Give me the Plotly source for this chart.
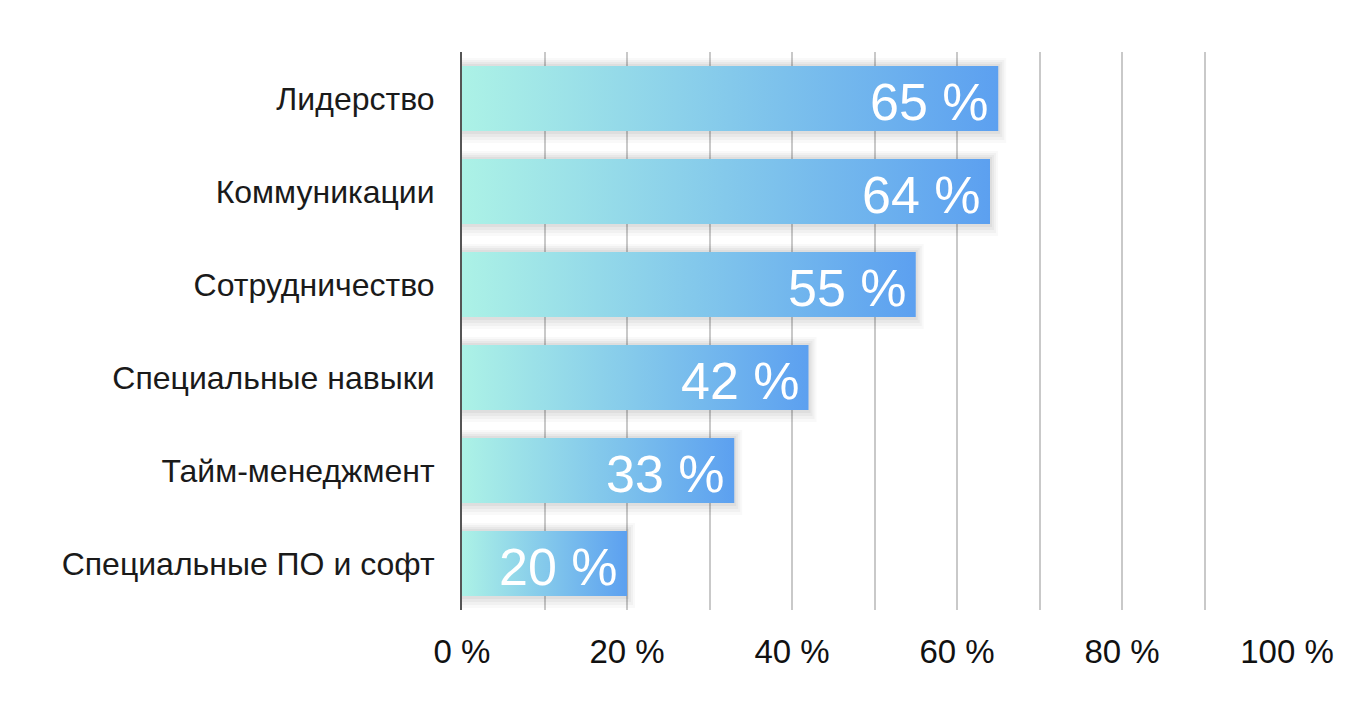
import plotly.graph_objects as go

categories = ["Лидерство", "Коммуникации", "Сотрудничество", "Специальные навыки",
              "Тайм-менеджмент", "Специальные ПО и софт"]
values = [65, 64, 55, 42, 33, 20]
tick_vals = [0, 10, 20, 30, 40, 50, 60, 70, 80, 90, 100]
tick_text = ["0 %", "", "20 %", "", "40 %", "", "60 %", "", "80 %", "", "100 %"]

C0 = "rgb(172,242,230)"
C1 = "rgb(92,160,240)"
HALF = 0.35
FONT = "Liberation Sans, Arial, Helvetica, sans-serif"

fig = go.Figure()

# soft shadow layers
for k, a in [(4, 0.025), (3, 0.03), (2, 0.035), (1, 0.04)]:
    for i, v in enumerate(values):
        dx = k * 1.0 / 8.25 * 2
        dy = k * 2.0 / 93
        fig.add_trace(go.Scatter(
            x=[0, v + dx, v + dx, 0, 0],
            y=[i - HALF - dy, i - HALF - dy, i + HALF + dy * 1.5, i + HALF + dy * 1.5, i - HALF - dy],
            fill="toself", fillcolor=f"rgba(0,0,0,{a})", mode="lines",
            line=dict(width=0), hoverinfo="skip", showlegend=False))

for i, v in enumerate(values):
    fig.add_trace(go.Scatter(
        x=[0, v, v, 0, 0],
        y=[i - HALF, i - HALF, i + HALF, i + HALF, i - HALF],
        fill="toself",
        fillgradient=dict(type="horizontal", colorscale=[[0, C0], [1, C1]]),
        mode="lines", line=dict(width=0), name=categories[i], showlegend=False))

for i, v in enumerate(values):
    fig.add_annotation(x=v, y=i, text=f"{v} %", showarrow=False,
                       xanchor="right", yanchor="middle", xshift=-7, yshift=-3,
                       font=dict(family=FONT, size=52, color="white"))

fig.update_layout(
    width=1352, height=716,
    margin=dict(l=462, r=65, t=52, b=106),
    paper_bgcolor="white", plot_bgcolor="white",
    font=dict(family=FONT, color="#111"),
    xaxis=dict(range=[0, 100], tickvals=tick_vals, ticktext=tick_text,
               showgrid=True, gridcolor="#c9c9c9", gridwidth=1.5,
               zeroline=False, showline=False,
               ticks="outside", ticklen=12, tickcolor="rgba(0,0,0,0)",
               tickfont=dict(size=33, color="#111"), fixedrange=True),
    yaxis=dict(range=[5.5, -0.5], tickvals=list(range(len(categories))), ticktext=categories,
               showgrid=False, zeroline=False, showline=True, linecolor="#555", linewidth=2,
               ticks="outside", ticklen=19, tickcolor="rgba(0,0,0,0)",
               tickfont=dict(size=32, color="#1a1a1a"), fixedrange=True),
)

fig.write_html("out.html")
